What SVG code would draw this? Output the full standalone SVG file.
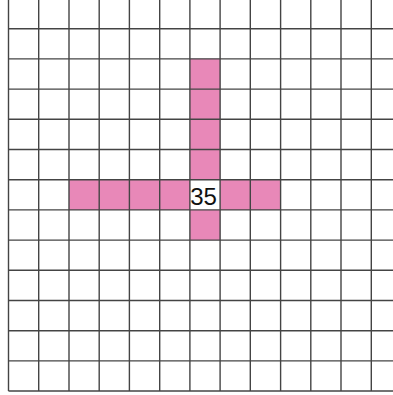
<svg xmlns="http://www.w3.org/2000/svg" width="393" height="395" viewBox="0 0 393 395">
<style>
.cell{fill:#E888B8}
.g line{stroke:#444;stroke-width:1.4}
.t{font-family:"Liberation Sans",Arial,sans-serif;font-size:24px;fill:#111}
</style>
<rect width="393" height="395" fill="#fff"/>
<g id="cells">
<rect class="cell" x="190" y="58.7" width="30.2" height="181.4"/>
<rect class="cell" x="69" y="179.8" width="211.7" height="30.2"/>
<rect x="190" y="179.8" width="30.2" height="30.2" fill="#fff"/>
</g>
<g class="g" id="grid">
<line x1="8.5" y1="0" x2="8.5" y2="391"/>
<line x1="38.7" y1="0" x2="38.7" y2="391"/>
<line x1="69" y1="0" x2="69" y2="391"/>
<line x1="99.2" y1="0" x2="99.2" y2="391"/>
<line x1="129.4" y1="0" x2="129.4" y2="391"/>
<line x1="159.7" y1="0" x2="159.7" y2="391"/>
<line x1="189.9" y1="0" x2="189.9" y2="391"/>
<line x1="220.1" y1="0" x2="220.1" y2="391"/>
<line x1="250.3" y1="0" x2="250.3" y2="391"/>
<line x1="280.6" y1="0" x2="280.6" y2="391"/>
<line x1="310.8" y1="0" x2="310.8" y2="391"/>
<line x1="341" y1="0" x2="341" y2="391"/>
<line x1="371.3" y1="0" x2="371.3" y2="391"/>
<line x1="8.5" y1="28.7" x2="393" y2="28.7"/>
<line x1="8.5" y1="58.9" x2="393" y2="58.9"/>
<line x1="8.5" y1="89.1" x2="393" y2="89.1"/>
<line x1="8.5" y1="119.3" x2="393" y2="119.3"/>
<line x1="8.5" y1="149.5" x2="393" y2="149.5"/>
<line x1="8.5" y1="179.7" x2="393" y2="179.7"/>
<line x1="8.5" y1="209.9" x2="393" y2="209.9"/>
<line x1="8.5" y1="240.1" x2="393" y2="240.1"/>
<line x1="8.5" y1="270.3" x2="393" y2="270.3"/>
<line x1="8.5" y1="300.5" x2="393" y2="300.5"/>
<line x1="8.5" y1="330.7" x2="393" y2="330.7"/>
<line x1="8.5" y1="360.9" x2="393" y2="360.9"/>
<line x1="8.5" y1="391" x2="393" y2="391"/>
</g>
<text class="t" x="203.5" y="205" text-anchor="middle">35</text>
</svg>
